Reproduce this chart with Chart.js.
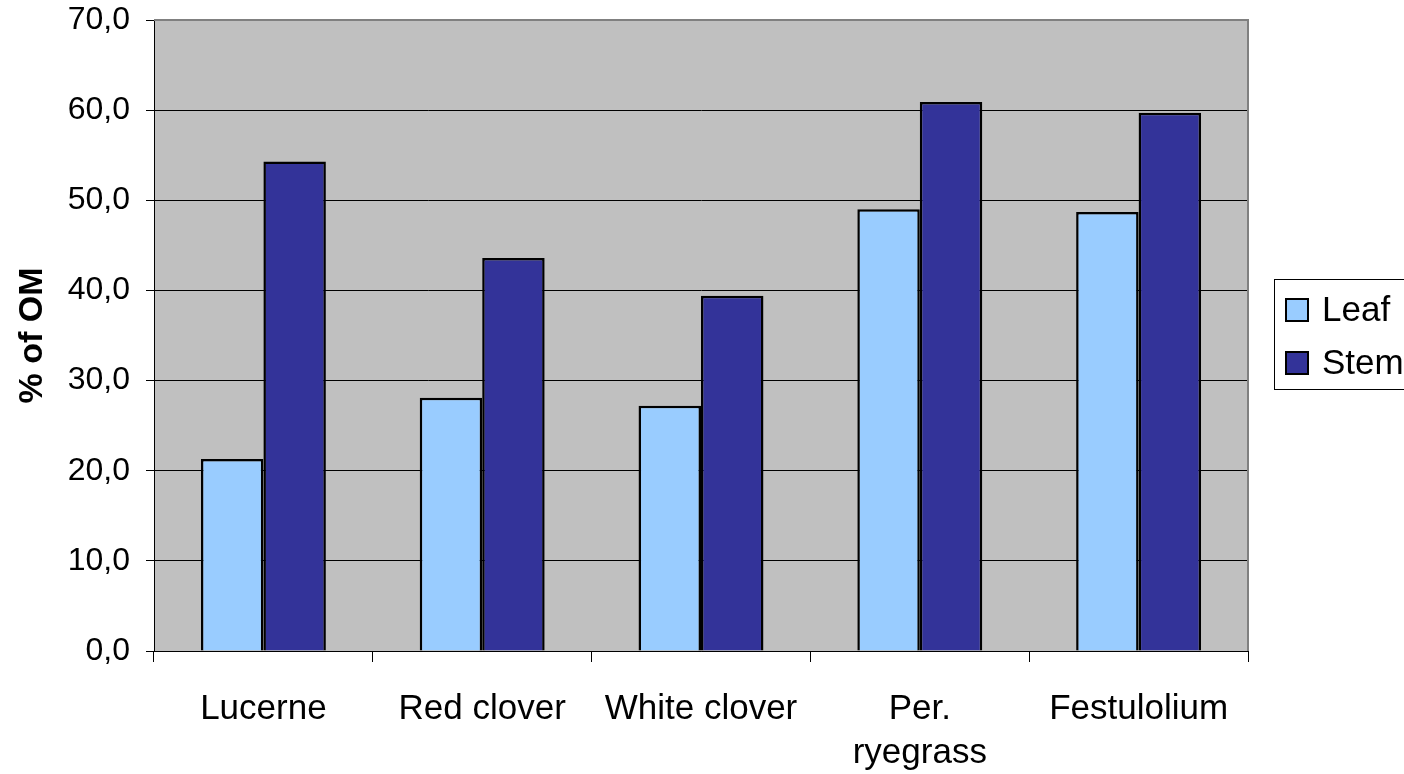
<!DOCTYPE html>
<html>
<head>
<meta charset="utf-8">
<script src="https://cdn.jsdelivr.net/npm/chart.js@4/dist/chart.umd.min.js"></script>
<style>
  html, body { margin: 0; padding: 0; background: #ffffff; }
  #wrap { position: relative; width: 1404px; height: 774px; }
</style>
</head>
<body>
<div id="wrap"><canvas id="chart" width="1404" height="774"></canvas></div>
<script>
// Categories (multi-line label for the ryegrass entry)
const categories = ['Lucerne', 'Red clover', 'White clover', ['Per.', 'ryegrass'], 'Festulolium'];
// Series values, % of OM
const leafValues = [21.3, 28.1, 27.2, 49.0, 48.7];
const stemValues = [54.3, 43.6, 39.4, 60.9, 59.7];
// Value-axis tick labels (decimal comma), from 0 up to 70
const yTickLabels = ['0,0', '10,0', '20,0', '30,0', '40,0', '50,0', '60,0', '70,0'];
const seriesNames = ['Leaf', 'Stem'];

const FONT = '"Liberation Sans", Arial, sans-serif';

// Grey plot background plus the darker frame on top and right
const plotFrame = {
  id: 'plotFrame',
  beforeDraw(chart) {
    const { ctx, chartArea: a } = chart;
    ctx.save();
    ctx.fillStyle = '#c0c0c0';
    ctx.fillRect(a.left, a.top, a.right - a.left, a.bottom - a.top);
    ctx.restore();
  },
  afterDatasetsDraw(chart) {
    const { ctx, chartArea: a } = chart;
    ctx.save();
    ctx.strokeStyle = '#808080';
    ctx.lineWidth = 2;
    ctx.beginPath();
    ctx.moveTo(a.left, a.top);
    ctx.lineTo(a.right, a.top);
    ctx.lineTo(a.right, a.bottom);
    ctx.stroke();
    ctx.restore();
  }
};

// Boxed legend on the right, built from the datasets
const boxedLegend = {
  id: 'boxedLegend',
  afterDraw(chart) {
    const { ctx } = chart;
    const left = 1274, top = 279, bottom = 389;
    ctx.save();
    ctx.fillStyle = '#ffffff';
    ctx.fillRect(left, top, 1404 - left + 5, bottom - top);
    ctx.strokeStyle = '#000000';
    ctx.lineWidth = 1;
    ctx.strokeRect(left + 0.5, top + 0.5, 1404 - left + 5, bottom - top);
    const rows = [310, 363];
    ctx.font = '35px ' + FONT;
    ctx.textBaseline = 'middle';
    ctx.textAlign = 'left';
    chart.data.datasets.forEach((ds, i) => {
      const cy = rows[i];
      ctx.fillStyle = ds.backgroundColor;
      ctx.fillRect(1286, cy - 11, 22, 22);
      ctx.strokeStyle = '#000000';
      ctx.lineWidth = 2;
      ctx.strokeRect(1286, cy - 11, 22, 22);
      ctx.fillStyle = '#000000';
      ctx.fillText(ds.label, 1322, cy + 1);
    });
    ctx.restore();
  }
};

new Chart(document.getElementById('chart'), {
  type: 'bar',
  data: {
    labels: categories,
    datasets: [
      { label: seriesNames[0], data: leafValues, backgroundColor: '#99ccff', borderColor: '#000000', borderWidth: 2.5 },
      { label: seriesNames[1], data: stemValues, backgroundColor: '#333399', borderColor: '#000000', borderWidth: 2.5 }
    ]
  },
  options: {
    responsive: false,
    animation: false,
    layout: { padding: { left: 0, right: 156, top: 0, bottom: 0 } },
    plugins: { legend: { display: false }, tooltip: { enabled: false } },
    datasets: { bar: { categoryPercentage: 0.571, barPercentage: 1.0 } },
    scales: {
      x: {
        offset: true,
        grid: { display: true, offset: true, drawOnChartArea: false, drawTicks: true, tickLength: 11, color: '#000000', lineWidth: 1 },
        border: { display: true, color: '#000000', width: 1 },
        ticks: { color: '#000000', padding: 25, font: { family: FONT, size: 35, lineHeight: 1.27 }, maxRotation: 0, autoSkip: false },
        afterFit(scale) { scale.height = 123; }
      },
      y: {
        min: 0, max: 70,
        ticks: {
          stepSize: 10, color: '#000000', padding: 16,
          font: { family: FONT, size: 32 },
          callback: (v, i) => yTickLabels[i]
        },
        grid: { color: '#000000', lineWidth: 1, drawTicks: true, tickLength: 8 },
        border: { display: true, color: '#000000', width: 1 },
        title: { display: true, text: '% of OM', color: '#000000', font: { family: FONT, size: 34, weight: 'bold' }, padding: { top: 12, bottom: 0 } },
        afterFit(scale) { scale.width = 154; scale.paddingTop = 20; }
      }
    }
  },
  plugins: [plotFrame, boxedLegend]
});
</script>
</body>
</html>
